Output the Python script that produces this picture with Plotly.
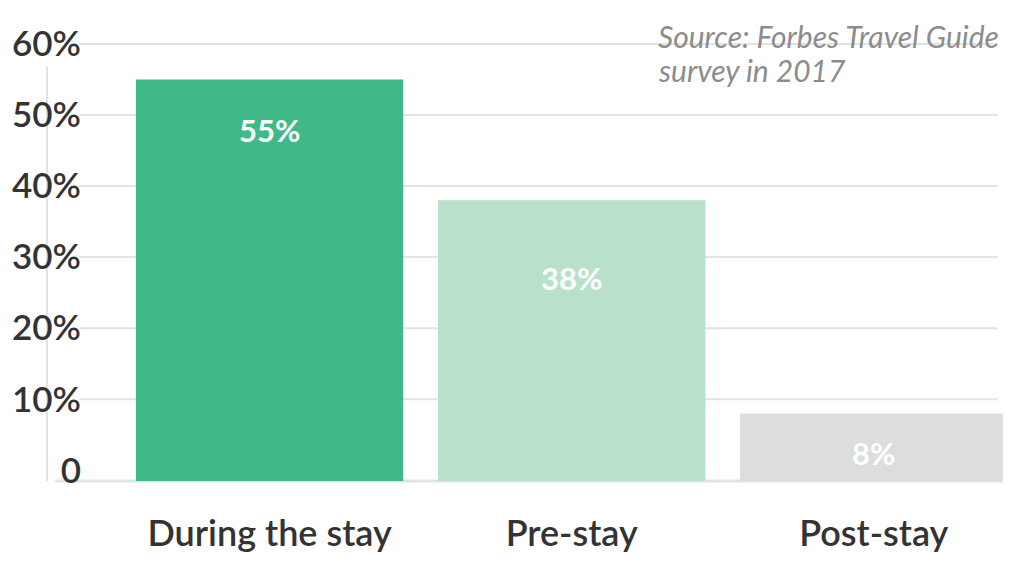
import plotly.graph_objects as go

categories = ["During the stay", "Pre-stay", "Post-stay"]
values = [55, 38, 8]
bar_colors = ["#40b988", "#b8e0ca", "#dcdddf"]
tick_vals = [0, 10, 20, 30, 40, 50, 60]
tick_text = ["0", "10%", "20%", "30%", "40%", "50%", "60%"]
label_shift = [-51, -78, -40]
source_lines = ["Source: Forbes Travel Guide", "survey in 2017"]

FONT = "Lato, 'Open Sans', sans-serif"
BASE = -1.5

fig = go.Figure()
fig.add_trace(go.Bar(
    x=list(range(len(categories))), y=[v - BASE for v in values], base=BASE,
    marker=dict(color=bar_colors, line=dict(width=0)),
    width=0.885, hoverinfo="skip",
))

for i, v in enumerate(values):
    fig.add_annotation(x=i, y=v, xref="x", yref="y", text=f"<b>{v}%</b>",
                       showarrow=False, yshift=label_shift[i],
                       font=dict(family=FONT, size=31, color="white"))

shapes = []
for t in tick_vals[1:]:
    shapes.append(dict(type="line", xref="paper", yref="y", x0=-0.003, x1=0.990,
                       y0=t, y1=t, line=dict(color="#e3e3e3", width=2), layer="below"))
shapes.append(dict(type="line", xref="paper", yref="paper", x0=-0.0378, x1=-0.0378,
                   y0=0, y1=0.94, line=dict(color="#e3e3e3", width=2), layer="below"))
shapes.append(dict(type="line", xref="paper", yref="paper", x0=0.999, x1=0.999,
                   y0=0, y1=0.993, line=dict(color="#e3e3e3", width=2), layer="below"))
shapes.append(dict(type="line", xref="paper", yref="paper", x0=-0.029, x1=1.0,
                   y0=0, y1=0, line=dict(color="#e3e3e3", width=3), layer="below"))

for j, line in enumerate(source_lines):
    fig.add_annotation(xref="paper", yref="paper", x=0.0 + (655 - 80) / 927, y=1.0 + (40 - 36) / 441,
                       yshift=-34 * j, xanchor="left", yanchor="middle",
                       text=line, showarrow=False, align="left",
                       font=dict(family=FONT, size=30, color="#8c8c8c", style="italic"))

fig.update_layout(
    width=1003, height=555,
    margin=dict(l=72, r=4, t=32, b=82),
    paper_bgcolor="white", plot_bgcolor="white",
    showlegend=False, shapes=shapes,
    xaxis=dict(range=[-0.621, 2.441], tickvals=list(range(len(categories))),
               ticktext=categories, showgrid=False, zeroline=False, showline=False,
               ticks="", tickfont=dict(family=FONT, size=36, color="#333333", weight=600),
               ticklabelstandoff=28),
    yaxis=dict(range=[BASE, 60.55], tickvals=tick_vals, ticktext=tick_text,
               showgrid=False, zeroline=False, showline=False, ticks="",
               tickfont=dict(family=FONT, size=35, color="#333333", weight=600)),
)

fig.write_html("out.html")
